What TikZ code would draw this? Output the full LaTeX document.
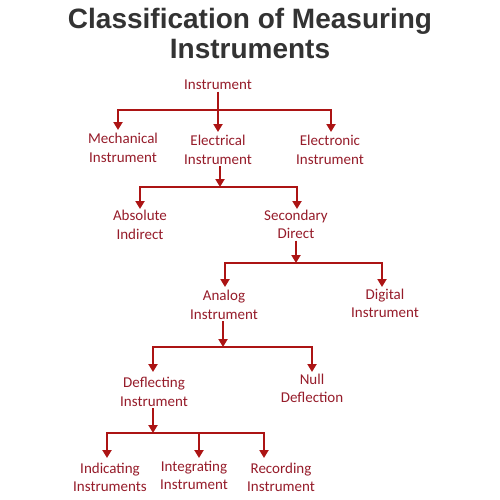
\documentclass[tikz,border=0pt]{standalone}
\usepackage{fontspec}
\setmainfont{Carlito}
\newfontfamily\titlefont{Liberation Sans}
\usetikzlibrary{arrows.meta}
\definecolor{ln}{RGB}{172,20,20}
\definecolor{tx}{RGB}{150,28,42}
\definecolor{tt}{RGB}{51,51,51}
\begin{document}
\begin{tikzpicture}[x=1pt,y=-1pt,
  lbl/.style={font=\fontsize{15}{18.5}\selectfont, text=tx, align=center, inner sep=1.5pt},
  conn/.style={draw=ln, line width=2pt},
  arr/.style={conn, -{Triangle[width=9pt,length=8pt]}}]
\useasboundingbox[fill=white] (0,0) rectangle (500,500);
\node[font=\titlefont\bfseries\fontsize{28}{30}\selectfont, text=tt, align=center, inner sep=0pt] (title) at (250,33) {Classification of Measuring\\Instruments};

% nodes
\node[lbl] (inst) at (218,85) {Instrument};
\node[lbl] (mech) at (123,148) {Mechanical\\Instrument};
\node[lbl] (elec) at (218,150) {Electrical\\Instrument};
\node[lbl] (elecn) at (330,150) {Electronic\\Instrument};
\node[lbl] (absind) at (140,225) {Absolute\\Indirect};
\node[lbl] (secdir) at (296,224.5) {Secondary\\Direct};
\node[lbl] (analog) at (224,305) {Analog\\Instrument};
\node[lbl] (digital) at (385,303.5) {Digital\\Instrument};
\node[lbl] (defl) at (154,392) {Deflecting\\Instrument};
\node[lbl] (null) at (312,388.5) {Null\\Deflection};
\node[lbl] (indic) at (110,477.5) {Indicating\\Instruments};
\node[lbl] (integ) at (194,475.5) {Integrating\\Instrument};
\node[lbl] (record) at (281,477.5) {Recording\\Instrument};

% junctions and arrow tips
\coordinate (j1) at (218,110);
\coordinate (tMech) at (118,130);
\coordinate (tElec) at (218,132);
\coordinate (tElecn) at (331,132);
\coordinate (j2) at (220,187);
\coordinate (tAbs) at (140,209);
\coordinate (tSec) at (297,209);
\coordinate (j3) at (296,263);
\coordinate (tAna) at (225,287);
\coordinate (tDig) at (382,287);
\coordinate (j4) at (223,347);
\coordinate (tDefl) at (153,372);
\coordinate (tNull) at (312,372);
\coordinate (j5) at (153,433);
\coordinate (tInd) at (107,458);
\coordinate (tInt) at (199,458);
\coordinate (tRec) at (264,458);

% connectors
\draw[arr] (inst.south) -- (j1) -- (tElec);
\draw[arr] (j1) -| (tMech);
\draw[arr] (j1) -| (tElecn);

\draw[arr] (elec.south -| j2) -- (j2);
\draw[arr] (j2) -| (tAbs);
\draw[arr] (j2) -| (tSec);

\draw[arr] (secdir.south -| j3) -- (j3);
\draw[arr] (j3) -| (tAna);
\draw[arr] (j3) -| (tDig);

\draw[arr] (analog.south -| j4) -- (j4);
\draw[arr] (j4) -| (tDefl);
\draw[arr] (j4) -| (tNull);

\draw[arr] (defl.south -| j5) -- (j5);
\draw[arr] (j5) -| (tInd);
\draw[arr] (j5) -- (tInt |- j5) -- (tInt);
\draw[arr] (j5) -| (tRec);
\end{tikzpicture}
\end{document}
